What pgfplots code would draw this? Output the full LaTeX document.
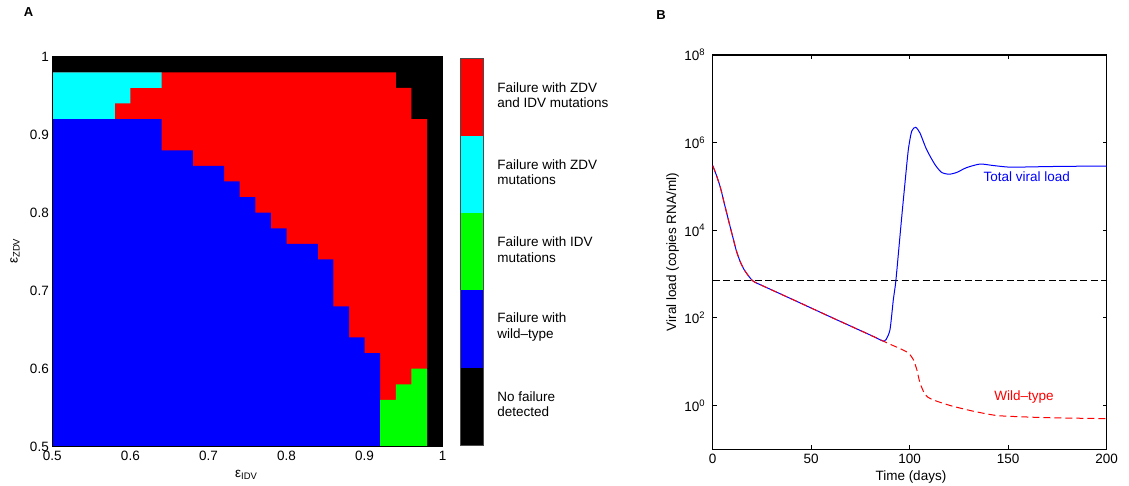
\documentclass[border=0pt]{standalone}
\usepackage{pgfplots}
\pgfplotsset{compat=1.18}
\usepackage{fontspec}
\setmainfont{Liberation Sans}
\newcommand{\fs}{\fontsize{13.5}{15.5}\selectfont}
\definecolor{mred}{rgb}{1,0,0}
\definecolor{mblue}{rgb}{0,0,1}
\definecolor{mgreen}{rgb}{0,1,0}
\definecolor{mcyan}{rgb}{0,1,1}
\begin{document}
\begin{tikzpicture}[font=\fs]
\path[use as bounding box] (0,0) rectangle (1129pt,486pt);
\pgfplotsset{every axis/.append style={/pgf/number format/assume math mode=true,
  clip mode=individual,
  tick label style={font=\fs}, label style={font=\fs}}}
% ---------------- Panel A ----------------
\begin{axis}[at={(52.3pt,39.3pt)}, anchor=south west, scale only axis,
  width=390.4pt, height=390pt,
  xmin=0.5, xmax=1, ymin=0.5, ymax=1,
  xtick={0.5,0.6,0.7,0.8,0.9,1}, ytick={0.5,0.6,0.7,0.8,0.9,1},
  major tick length=0pt, axis on top,
  axis line style={line width=0.8pt},
  xticklabel style={yshift=-1pt}]
% no failure detected (black)
\addplot[fill=black, draw=none] coordinates {(0.5,0.5) (1,0.5) (1,1) (0.5,1)} -- cycle;
% failure with ZDV and IDV mutations (red)
\addplot[fill=mred, draw=none] coordinates {(0.5,0.5) (0.98,0.5) (0.98,0.92) (0.96,0.92)
  (0.96,0.96) (0.94,0.96) (0.94,0.98) (0.5,0.98)} -- cycle;
% failure with ZDV mutations (cyan)
\addplot[fill=mcyan, draw=none] coordinates {(0.5,0.92) (0.58,0.92) (0.58,0.94) (0.60,0.94)
  (0.60,0.96) (0.64,0.96) (0.64,0.98) (0.5,0.98)} -- cycle;
% failure with wild-type (blue)
\addplot[fill=mblue, draw=none] coordinates {(0.5,0.5) (0.92,0.5) (0.92,0.62) (0.90,0.62)
  (0.90,0.64) (0.88,0.64) (0.88,0.68) (0.86,0.68) (0.86,0.74) (0.84,0.74) (0.84,0.76)
  (0.80,0.76) (0.80,0.78) (0.78,0.78) (0.78,0.80) (0.76,0.80) (0.76,0.82) (0.74,0.82)
  (0.74,0.84) (0.72,0.84) (0.72,0.86) (0.68,0.86) (0.68,0.88) (0.64,0.88) (0.64,0.92)
  (0.5,0.92)} -- cycle;
% failure with IDV mutations (green)
\addplot[fill=mgreen, draw=none] coordinates {(0.92,0.5) (0.98,0.5) (0.98,0.60) (0.96,0.60)
  (0.96,0.58) (0.94,0.58) (0.94,0.56) (0.92,0.56)} -- cycle;
\node[anchor=center] at (axis description cs:0.497,-0.072) {ε\textsubscript{IDV}};
\node[rotate=90, anchor=center] at (axis description cs:-0.0955,0.502) {ε\textsubscript{ZDV}};
\end{axis}
% ---------------- Colour key ----------------
\begin{axis}[at={(460pt,41pt)}, anchor=south west, scale only axis,
  width=23.3pt, height=386.7pt, xmin=0, xmax=1, ymin=0, ymax=5,
  xtick=\empty, ytick=\empty, axis on top,
  axis line style={line width=0.5pt, black!70}]
\addplot[fill=black, draw=none] coordinates {(0,0) (1,0) (1,1) (0,1)} -- cycle;
\addplot[fill=mblue, draw=none] coordinates {(0,1) (1,1) (1,2) (0,2)} -- cycle;
\addplot[fill=mgreen, draw=none] coordinates {(0,2) (1,2) (1,3) (0,3)} -- cycle;
\addplot[fill=mcyan, draw=none] coordinates {(0,3) (1,3) (1,4) (0,4)} -- cycle;
\addplot[fill=mred, draw=none] coordinates {(0,4) (1,4) (1,5) (0,5)} -- cycle;
\node[anchor=west, align=left, xshift=10.5pt, yshift=2pt] at (axis cs:1,4.5) {Failure with ZDV\\and IDV mutations};
\node[anchor=west, align=left, xshift=10.5pt, yshift=2pt] at (axis cs:1,3.5) {Failure with ZDV\\mutations};
\node[anchor=west, align=left, xshift=10.5pt, yshift=2pt] at (axis cs:1,2.5) {Failure with IDV\\mutations};
\node[anchor=west, align=left, xshift=10.5pt, yshift=2pt] at (axis cs:1,1.5) {Failure with\\wild--type};
\node[anchor=west, align=left, xshift=10.5pt, yshift=2pt] at (axis cs:1,0.5) {No failure\\detected};
\end{axis}
% ---------------- Panel B ----------------
\begin{axis}[at={(712.7pt,36.7pt)}, anchor=south west, scale only axis,
  width=394pt, height=394.3pt,
  xmin=0, xmax=200, ymode=log, ymin=0.1, ymax=1e8,
  xtick={0,50,100,150,200},
  ytick={1,100,10000,1000000,100000000},
  yticklabels={10\textsuperscript{0},10\textsuperscript{2},10\textsuperscript{4},10\textsuperscript{6},10\textsuperscript{8}},
  minor tick length=0pt, major tick length=4pt, tick align=inside,
  xtick pos=both, ytick pos=both,
  tick style={line width=0.9pt, black},
  axis line style={line width=1.1pt},
  yticklabel style={xshift=-4pt},
  xticklabel style={yshift=-1pt}]
\addplot[black, dash pattern=on 7pt off 3.5pt, line width=0.9pt] coordinates {(0,700) (200,700)};
% total viral load
\addplot[mblue, line width=1pt, smooth, tension=0.4] coordinates {
 (0,3.0e5) (2,1.74e5) (4,9.1e4) (6,3.9e4) (8,1.7e4) (10,7.6e3) (12,3.4e3) (14,1.9e3)
 (16,1.25e3) (18,930) (20,720) (22,630) (24,575) (40,270) (60,104) (80,40.5)
 (85,31.5) (86.6,29.5) (88,32) (90,54) (91.7,263) (93,724) (95.9,1.9e4) (97.6,1.2e5)
 (99.3,6.9e5) (101,1.82e6) (103,2.24e6) (105.2,1.66e6) (108.6,6.9e5) (112.8,3.16e5)
 (116.2,2.09e5) (120,1.9e5) (123.9,2.09e5) (128.9,2.69e5) (135.7,3.24e5) (142.4,3.0e5)
 (150.9,2.75e5) (162.7,2.8e5) (180,2.88e5) (200,2.9e5)};
% wild-type
\addplot[mred, line width=1pt, dash pattern=on 7pt off 4pt, smooth, tension=0.4] coordinates {
 (0,3.0e5) (2,1.74e5) (4,9.1e4) (6,3.9e4) (8,1.7e4) (10,7.6e3) (12,3.4e3) (14,1.9e3)
 (16,1.25e3) (18,930) (20,720) (22,630) (24,575) (40,270) (60,104) (80,40.5)
 (86.6,29.5) (90,25) (95,20) (99.3,15.8) (101.8,11.2) (103.6,6.6) (105.2,3.3)
 (107.8,1.78) (111.2,1.38) (120.5,1.0) (132.3,0.74) (144.2,0.59) (157.7,0.55)
 (171.2,0.525) (200,0.50)};
\node[mblue] at (axis cs:159.4,1.65e5) {Total viral load};
\node[mred] at (axis cs:158,1.58) {Wild--type};
\node[anchor=center] at (axis description cs:0.503,-0.0715) {Time (days)};
\node[rotate=90, anchor=center] at (axis description cs:-0.102,0.5) {Viral load (copies RNA/ml)};
\end{axis}
\node[font=\bfseries\fontsize{13}{15}\selectfont] at (28.5pt,474pt) {A};
\node[font=\bfseries\fontsize{13}{15}\selectfont] at (661pt,470.7pt) {B};
\end{tikzpicture}
\end{document}
